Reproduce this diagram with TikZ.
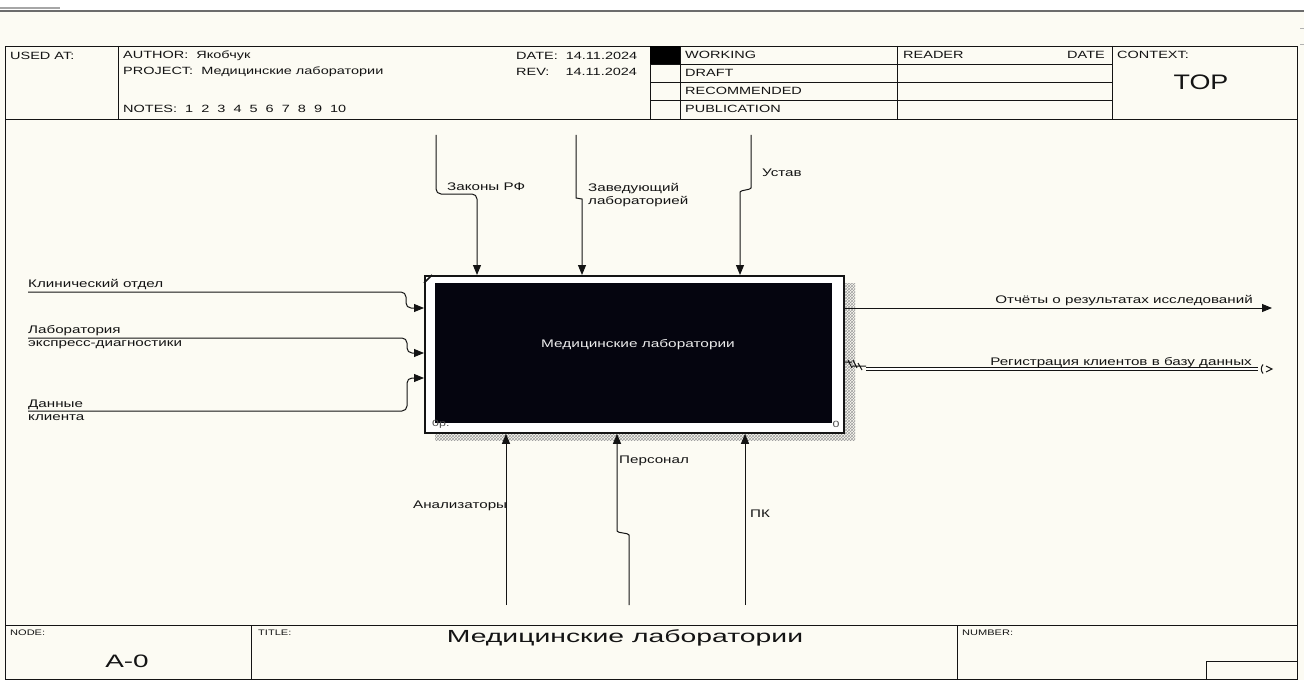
\documentclass[tikz,border=0pt]{standalone}
\usepackage{fontspec}
\setmainfont{Liberation Sans}
\usetikzlibrary{arrows.meta,patterns}
\definecolor{paper}{HTML}{FCFBF3}
\definecolor{ink}{HTML}{141414}
\definecolor{boxfill}{HTML}{05050F}
\newcommand{\hs}[2][1.38]{\scalebox{#1}[1]{#2}}
\tikzset{
  lbl/.style={font=\fontsize{11}{12.5}\selectfont, inner sep=0pt, text=ink, anchor=west, align=left},
  hdr/.style={font=\fontsize{10.5}{12}\selectfont, inner sep=0pt, anchor=west, text=ink},
  small/.style={font=\fontsize{8}{9}\selectfont, inner sep=0pt, anchor=west, text=ink},
  frameline/.style={draw=ink, line width=0.9pt},
  flow/.style={draw=ink, line width=1pt, rounded corners=5pt},
  tip/.style={-{Triangle[length=10pt,width=8pt]}},
  shade/.style={pattern=crosshatch, pattern color=gray!75},
}
\begin{document}
\begin{tikzpicture}[x=1pt,y=-1pt]
\useasboundingbox (0,0) rectangle (1304,682);
\fill[paper] (0,0) rectangle (1304,682);
\fill[white] (0,0) rectangle (1304,10);
\fill[white] (0,679.5) rectangle (1304,682);
\draw[gray!85!black, line width=2pt] (0,11.5) -- (1304,11.5);
\draw[gray!70, line width=1.5pt] (0,8) -- (60,8);
\draw[gray!60, line width=0.8pt] (1300,28) -- (1304,28) (1300,44) -- (1304,44);

% frame
\draw[frameline] (5,46) rectangle (1297,679);
\draw[frameline] (5,119) -- (1297,119);
\draw[frameline] (5,625) -- (1297,625);
% header grid
\draw[frameline] (118,46) -- (118,119) (650,46) -- (650,119) (680,46) -- (680,119)
  (897,46) -- (897,119) (1112,46) -- (1112,119);
\draw[frameline] (650,64) -- (1112,64) (650,82) -- (1112,82) (650,100) -- (1112,100);
\fill[black] (650,46) rectangle (680,64);
% footer grid
\draw[frameline] (251,625) -- (251,679) (957,625) -- (957,679);
\draw[frameline] (1206,661) rectangle (1297,679);

% header text
\node[hdr] (usedat) at (10,56) {\hs{USED AT:}};
\node[hdr] (author) at (123,56) {\hs{AUTHOR:\ \ Якобчук}};
\node[hdr] (project) at (123,72) {\hs{PROJECT:\ \ Медицинские лаборатории}};
\node[hdr] (notes) at (123,109) {\hs{NOTES:\ \ 1\ \ 2\ \ 3\ \ 4\ \ 5\ \ 6\ \ 7\ \ 8\ \ 9\ \ 10}};
\node[hdr] (date) at (516,56) {\hs{DATE:\ \ 14.11.2024}};
\node[hdr] (rev) at (516,72) {\hs{REV:\ \ \ \ 14.11.2024}};
\node[hdr] (working) at (685,55) {\hs{WORKING}};
\node[hdr] (draft) at (685,73) {\hs{DRAFT}};
\node[hdr] (recom) at (685,91) {\hs{RECOMMENDED}};
\node[hdr] (publ) at (685,109) {\hs{PUBLICATION}};
\node[hdr] (reader) at (903,55) {\hs{READER}};
\node[hdr, anchor=east] (rdate) at (1105,55) {\hs{DATE}};
\node[hdr] (context) at (1117,55) {\hs{CONTEXT:}};
\node[font=\fontsize{21}{24}\selectfont, inner sep=0pt, text=ink] (top) at (1201,82) {\hs[1.28]{TOP}};

% footer text
\node[small] (nodelbl) at (10,633) {\hs{NODE:}};
\node[font=\fontsize{18}{20}\selectfont, inner sep=0pt, text=ink] (nodeval) at (127,661) {\hs[1.55]{A-0}};
\node[small] (titlelbl) at (258,633) {\hs{TITLE:}};
\node[font=\fontsize{17.5}{20}\selectfont, inner sep=0pt, text=ink] (title) at (625,638) {\hs[1.62]{Медицинские лаборатории}};
\node[small] (numlbl) at (962,633) {\hs{NUMBER:}};

% activity box with shadow
\fill[shade] (843,283) rectangle (855,440);
\fill[shade] (435,432) rectangle (843,440);
\node[draw=ink, line width=1.8pt, fill=white, minimum width=419pt, minimum height=157pt,
      inner sep=0pt, anchor=north west] (A0) at (424,275) {};
\fill[boxfill] (435,283) rectangle (832,423);
\draw[ink, line width=1.6pt] (424,283) -- (432,275);
\node[font=\fontsize{11}{13}\selectfont, inner sep=0pt, text=white!85!gray] (A0t) at (638,345) {\hs[1.4]{Медицинские лаборатории}};
\node[font=\fontsize{9}{10}\selectfont, inner sep=0pt, text=gray!60!black, anchor=west] (A0c) at (432,424) {\hs{0р.}};
\node[font=\fontsize{9}{10}\selectfont, inner sep=0pt, text=gray!60!black] (A0n) at (836,424) {\hs{0}};

% controls (top)
\draw[flow, tip] (436,135) -- (436,194) -- (477,194) -- (477,0 |- A0.north);
\draw[flow, tip] (576,135) -- (576,193) to[out=-90,in=90] (582,204) -- (582,0 |- A0.north);
\draw[flow, tip] (751,135) -- (751,183) to[out=-90,in=90] (740,197) -- (740,0 |- A0.north);
\node[lbl] (zak) at (447,187) {\hs{Законы РФ}};
\node[lbl] (zav) at (588,195) {\hs{Заведующий}\\\hs{лабораторией}};
\node[lbl] (ust) at (762,173) {\hs{Устав}};

% mechanisms (bottom)
\draw[flow, tip] (506,605) -- (506,0 |- A0.south);
\draw[flow, tip] (629,605) -- (629,540) to[out=90,in=-90] (617,526) -- (617,0 |- A0.south);
\draw[flow, tip] (745,605) -- (745,0 |- A0.south);
\node[lbl] (anal) at (413,506) {\hs{Анализаторы}};
\node[lbl] (pers) at (619,461) {\hs{Персонал}};
\node[lbl] (pk) at (750,514) {\hs{ПК}};

% inputs (left)
\draw[flow, tip] (28,292) -- (406,292) -- (406,308) -- (A0.west |- 0,308);
\draw[flow, tip] (28,338) -- (407,338) -- (407,353) -- (A0.west |- 0,353);
\draw[flow, tip] (28,411) -- (407,411) -- (407,378) -- (A0.west |- 0,378);
\node[lbl] (klin) at (28,285) {\hs{Клинический отдел}};
\node[lbl] (labexp) at (28,337) {\hs{Лаборатория}\\\hs{экспресс-диагностики}};
\node[lbl] (dann) at (28,410.5) {\hs{Данные}\\\hs{клиента}};

% outputs (right)
\draw[flow, tip] (A0.east |- 0,308) -- (1272,308);
\node[lbl, anchor=east] (otch) at (1253,301) {\hs{Отчёты о результатах исследований}};
\coordinate (regs) at (866,369);
\coordinate (rege) at (1258,369);
\draw[ink, line width=1pt] (A0.east |- 0,362) -- (852,362) (848,360) -- (852,368) (853,360) -- (857,368)
  (852,366) -- (866,366) (858,363) -- (862,370);
\draw[ink, line width=1.1pt, double distance=2.2pt] (regs) -- (rege);
\draw[ink, line width=1pt] (1263,364.5) to[out=-130,in=130] (1263,373.5);
\draw[ink, line width=1pt] (1266,366) -- (1272,369) -- (1266,372);
\node[lbl, anchor=east] (reg) at (1252,363) {\hs{Регистрация клиентов в базу данных}};
\end{tikzpicture}
\end{document}
